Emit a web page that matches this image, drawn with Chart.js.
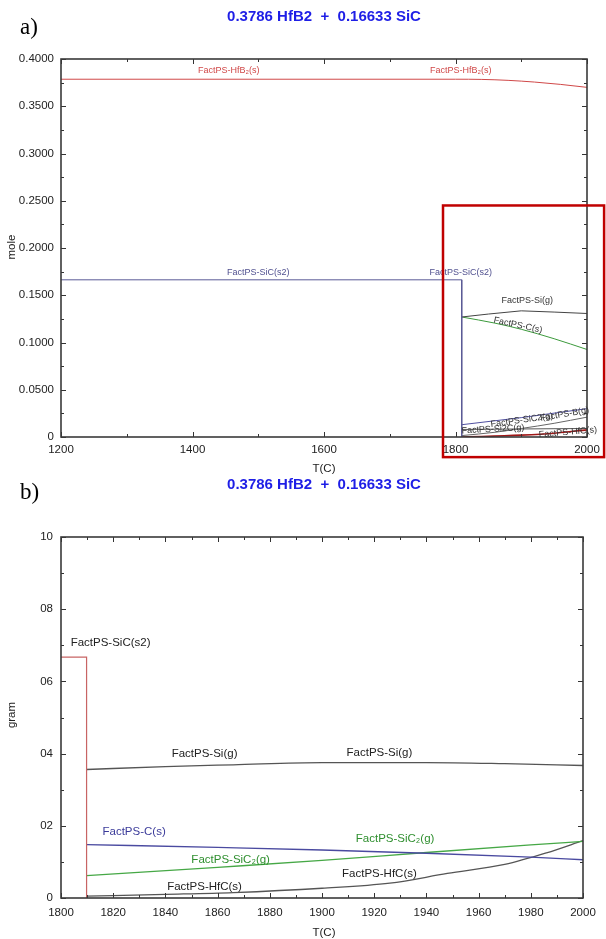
<!DOCTYPE html>
<html>
<head>
<meta charset="utf-8">
<script src="https://cdn.jsdelivr.net/npm/chart.js@4.4.1/dist/chart.umd.min.js"></script>
<style>
  body { margin: 0; background: #fff; }
  #wrap { position: relative; width: 606px; height: 939px; overflow: hidden; background: #fff; }
  canvas { position: absolute; left: 0; }
  #grafA { top: 0; }
  #grafB { top: 470px; }
</style>
</head>
<body>
<div id="wrap">
  <canvas id="grafA" width="606" height="482"></canvas>
  <canvas id="grafB" width="606" height="469"></canvas>
</div>
<script>
// ---- DADOS GRAFICO a) (mole) ----
const xTicksA = [1200, 1400, 1600, 1800, 2000];
const yTicksA = [0, 0.05, 0.1, 0.15, 0.2, 0.25, 0.3, 0.35, 0.4];

const hfb2T = [1200, 1800, 1840, 1880, 1920, 1960, 2000];
const hfb2Mol = [0.3786, 0.3786, 0.3784, 0.3774, 0.3756, 0.3731, 0.37];

const sicT = [1200, 1809.5, 1809.5];
const sicMol = [0.16633, 0.16633, 0];

const siGT = [1809.5, 1850, 1900, 1950, 2000];
const siGMol = [0.127, 0.1301, 0.1335, 0.1322, 0.1307];

const cST = [1809.5, 1860, 1900, 1950, 2000];
const cSMol = [0.127, 0.1205, 0.114, 0.104, 0.0926];

const sic2T = [1809.5, 1900, 2000];
const sic2Mol = [0.013, 0.0205, 0.03];

const bGT = [1809.5, 1860, 1900, 1950, 2000];
const bGMol = [0.0015, 0.005, 0.009, 0.0145, 0.021];

const si2cT = [1809.5, 1900, 2000];
const si2cMol = [0.008, 0.0085, 0.009];

const hfcAT = [1809.5, 1840, 1900, 1950, 2000];
const hfcAMol = [0, 0.0005, 0.002, 0.004, 0.0075];

// ---- DADOS GRAFICO b) (gram) ----
const xTicksB = [1800, 1820, 1840, 1860, 1880, 1900, 1920, 1940, 1960, 1980, 2000];
const yTicksB = [0, 2, 4, 6, 8, 10];
const yLabelsB = ["0", "02", "04", "06", "08", "10"];

const sicBT = [1800, 1809.8, 1809.8];
const sicBG = [6.67, 6.67, 0];

const siBT = [1809.8, 1840, 1866, 1900, 1940, 1970, 2000];
const siBG = [3.56, 3.64, 3.69, 3.75, 3.75, 3.72, 3.67];

const cBT = [1809.8, 1860, 1900, 1940, 1980, 2000];
const cBG = [1.48, 1.4, 1.33, 1.24, 1.13, 1.06];

const sic2BT = [1809.8, 1860, 1900, 1940, 1980, 2000];
const sic2BG = [0.62, 0.85, 1.04, 1.26, 1.47, 1.57];

const hfcBT = [1809.8, 1840, 1866, 1900, 1926, 1948, 1970, 1986, 2000];
const hfcBG = [0.05, 0.1, 0.15, 0.27, 0.41, 0.68, 0.93, 1.25, 1.59];

// rotulos das curvas (posicao em coordenadas do grafico)
const rotulosA = [
  { texto: "FactPS-HfB\u2082(s)", t: 1455, v: 0.388, cor: "#d04848", ang: 0 },
  { texto: "FactPS-HfB\u2082(s)", t: 1808, v: 0.388, cor: "#d04848", ang: 0 },
  { texto: "FactPS-SiC(s2)", t: 1500, v: 0.1745, cor: "#50508f", ang: 0 },
  { texto: "FactPS-SiC(s2)", t: 1808, v: 0.1745, cor: "#50508f", ang: 0 },
  { texto: "FactPS-Si(g)", t: 1909, v: 0.1448, cor: "#333", ang: 0 },
  { texto: "FactPS-C(s)", t: 1895, v: 0.1183, cor: "#333", ang: 12 },
  { texto: "FactPS-SiC2(g)", t: 1901, v: 0.0177, cor: "#333", ang: -8 },
  { texto: "FactPS-B(g)", t: 1966, v: 0.024, cor: "#333", ang: -10 },
  { texto: "FactPS-Si2C(g)", t: 1857, v: 0.0082, cor: "#333", ang: -3 },
  { texto: "FactPS-HfC(s)", t: 1971, v: 0.005, cor: "#333", ang: -5 },
];

const rotulosB = [
  { texto: "FactPS-SiC(s2)", t: 1819, v: 7.06, cor: "#222", ang: 0 },
  { texto: "FactPS-Si(g)", t: 1855, v: 3.98, cor: "#222", ang: 0 },
  { texto: "FactPS-Si(g)", t: 1922, v: 4.03, cor: "#222", ang: 0 },
  { texto: "FactPS-C(s)", t: 1828, v: 1.84, cor: "#3b3b9a", ang: 0 },
  { texto: "FactPS-SiC\u2082(g)", t: 1928, v: 1.65, cor: "#2f8f2f", ang: 0 },
  { texto: "FactPS-SiC\u2082(g)", t: 1865, v: 1.07, cor: "#2f8f2f", ang: 0 },
  { texto: "FactPS-HfC(s)", t: 1855, v: 0.31, cor: "#222", ang: 0 },
  { texto: "FactPS-HfC(s)", t: 1922, v: 0.66, cor: "#222", ang: 0 },
];

function pontos(ts, vs) {
  return ts.map((t, i) => ({ x: t, y: vs[i] }));
}

function serie(ts, vs, cor, largura, curva) {
  return {
    data: pontos(ts, vs),
    borderColor: cor,
    borderWidth: largura,
    pointRadius: 0,
    fill: false,
    tension: curva ? 0.4 : 0,
    cubicInterpolationMode: curva ? "monotone" : "default",
  };
}

// moldura + ticks para dentro nos quatro lados
function desenharMoldura(chart, xMaior, xMenor, yMaior, yMenor) {
  const { ctx, chartArea: a, scales } = chart;
  const x = scales.x, y = scales.y;
  ctx.save();
  ctx.strokeStyle = "#333";
  ctx.lineWidth = 1;
  ctx.beginPath();
  function tx(v, len) {
    const px = Math.round(x.getPixelForValue(v)) + 0.5;
    ctx.moveTo(px, a.bottom); ctx.lineTo(px, a.bottom - len);
    ctx.moveTo(px, a.top); ctx.lineTo(px, a.top + len);
  }
  function ty(v, len) {
    const py = Math.round(y.getPixelForValue(v)) + 0.5;
    ctx.moveTo(a.left, py); ctx.lineTo(a.left + len, py);
    ctx.moveTo(a.right, py); ctx.lineTo(a.right - len, py);
  }
  xMaior.forEach(v => tx(v, 5));
  xMenor.forEach(v => tx(v, 3));
  yMaior.forEach(v => ty(v, 5));
  yMenor.forEach(v => ty(v, 3));
  ctx.stroke();
  ctx.lineWidth = 1.6;
  ctx.strokeStyle = "#3a3a3a";
  ctx.strokeRect(a.left, a.top, a.right - a.left, a.bottom - a.top);
  ctx.restore();
}

function escreverRotulos(chart, rotulos, fonte) {
  const { ctx, scales } = chart;
  ctx.save();
  ctx.font = fonte;
  ctx.textAlign = "center";
  ctx.textBaseline = "middle";
  rotulos.forEach(r => {
    const px = scales.x.getPixelForValue(r.t);
    const py = scales.y.getPixelForValue(r.v);
    ctx.save();
    ctx.translate(px, py);
    ctx.rotate(r.ang * Math.PI / 180);
    ctx.fillStyle = r.cor;
    ctx.fillText(r.texto, 0, 0);
    ctx.restore();
  });
  ctx.restore();
}

function textosFixos(ctx, letra, letraY, tituloY, eixoX, eixoXY, eixoY, eixoYY) {
  ctx.save();
  ctx.textAlign = "center";
  ctx.textBaseline = "middle";
  ctx.fillStyle = "#1e1ee6";
  ctx.font = "bold 15px Arial, 'Liberation Sans', sans-serif";
  ctx.fillText("0.3786 HfB2  +  0.16633 SiC", 324, tituloY);
  ctx.fillStyle = "#000";
  ctx.font = "23px 'Liberation Serif', 'Times New Roman', serif";
  ctx.textAlign = "left";
  ctx.fillText(letra, 20, letraY);
  ctx.textAlign = "center";
  ctx.fillStyle = "#222";
  ctx.font = "11.5px Arial, 'Liberation Sans', sans-serif";
  ctx.fillText(eixoX, 324, eixoXY);
  ctx.translate(12, eixoYY);
  ctx.rotate(-Math.PI / 2);
  ctx.fillText(eixoY, 0, 0);
  ctx.restore();
}

function opcoesEixos(cfg) {
  const fonte = { family: "Arial, 'Liberation Sans', sans-serif", size: 11.5 };
  return {
    x: {
      type: "linear",
      min: cfg.xMin,
      max: cfg.xMax,
      grid: { display: false, drawTicks: false },
      border: { display: false },
      ticks: {
        padding: cfg.xPad,
        font: fonte,
        color: "#222",
        autoSkip: false,
        maxRotation: 0,
        callback: v => String(v),
      },
      afterBuildTicks: s => { s.ticks = cfg.xTicks.map(v => ({ value: v })); },
      afterFit: s => { s.height = cfg.xAltura; },
    },
    y: {
      type: "linear",
      min: cfg.yMin,
      max: cfg.yMax,
      grid: { display: false, drawTicks: false },
      border: { display: false },
      ticks: {
        padding: cfg.yPad,
        font: fonte,
        color: "#222",
        autoSkip: false,
        callback: cfg.yRotulo,
      },
      afterBuildTicks: s => { s.ticks = cfg.yTicks.map(v => ({ value: v })); },
      afterFit: s => { s.width = 61; },
    },
  };
}

// GRAFICO a)
new Chart(document.getElementById("grafA"), {
  type: "line",
  data: {
    datasets: [
      serie(hfb2T, hfb2Mol, "#d04848", 1, true),
      serie(sicT, sicMol, "#5a5a96", 1, false),
      serie(siGT, siGMol, "#444", 1, false),
      serie(cST, cSMol, "#3c9a3c", 1, true),
      serie(sic2T, sic2Mol, "#5050a0", 1, false),
      serie(bGT, bGMol, "#666", 1, true),
      serie(si2cT, si2cMol, "#555", 1, false),
      serie(hfcAT, hfcAMol, "#a01818", 1.6, true),
    ],
  },
  options: {
    responsive: false,
    animation: false,
    devicePixelRatio: 1,
    layout: { padding: { top: 59, right: 19, left: 0, bottom: 0 } },
    plugins: { legend: { display: false }, tooltip: { enabled: false }, title: { display: false } },
    scales: opcoesEixos({
      xMin: 1200, xMax: 2000, yMin: 0, yMax: 0.4,
      xTicks: xTicksA, yTicks: yTicksA,
      xPad: 6, yPad: 7, xAltura: 482 - 437,
      yRotulo: v => (v === 0 ? "0" : Number(v).toFixed(4)),
    }),
  },
  plugins: [{
    id: "molduraA",
    afterDatasetsDraw(chart) {
      desenharMoldura(chart, xTicksA, [1300, 1500, 1700, 1900],
        yTicksA, [0.025, 0.075, 0.125, 0.175, 0.225, 0.275, 0.325, 0.375]);
      escreverRotulos(chart, rotulosA, "9px Arial, 'Liberation Sans', sans-serif");
    },
    afterDraw(chart) {
      const { ctx, scales } = chart;
      textosFixos(ctx, "a)", 28, 17, "T(C)", 469, "mole", 247);
      // destaque vermelho da regiao ampliada
      const x1 = scales.x.getPixelForValue(1781);
      const x2 = scales.x.getPixelForValue(2026);
      const y1 = scales.y.getPixelForValue(0.245);
      const y2 = scales.y.getPixelForValue(-0.0213);
      ctx.save();
      ctx.strokeStyle = "#c00000";
      ctx.lineWidth = 2.5;
      ctx.strokeRect(x1, y1, x2 - x1, y2 - y1);
      ctx.restore();
    },
  }],
});

// GRAFICO b)
new Chart(document.getElementById("grafB"), {
  type: "line",
  data: {
    datasets: [
      serie(sicBT, sicBG, "#c86464", 1.2, false),
      serie(siBT, siBG, "#555", 1.3, true),
      serie(cBT, cBG, "#4a4aa0", 1.3, true),
      serie(sic2BT, sic2BG, "#46a846", 1.3, true),
      serie(hfcBT, hfcBG, "#555", 1.3, true),
    ],
  },
  options: {
    responsive: false,
    animation: false,
    devicePixelRatio: 1,
    layout: { padding: { top: 67, right: 23, left: 0, bottom: 0 } },
    plugins: { legend: { display: false }, tooltip: { enabled: false }, title: { display: false } },
    scales: opcoesEixos({
      xMin: 1800, xMax: 2000, yMin: 0, yMax: 10,
      xTicks: xTicksB, yTicks: yTicksB,
      xPad: 8, yPad: 8, xAltura: 469 - 428,
      yRotulo: v => yLabelsB[yTicksB.indexOf(v)],
    }),
  },
  plugins: [{
    id: "molduraB",
    afterDatasetsDraw(chart) {
      desenharMoldura(chart, xTicksB, [1810, 1830, 1850, 1870, 1890, 1910, 1930, 1950, 1970, 1990],
        yTicksB, [1, 3, 5, 7, 9]);
      escreverRotulos(chart, rotulosB, "11.5px Arial, 'Liberation Sans', sans-serif");
    },
    afterDraw(chart) {
      textosFixos(chart.ctx, "b)", 23, 15, "T(C)", 463, "gram", 245);
    },
  }],
});
</script>
</body>
</html>
